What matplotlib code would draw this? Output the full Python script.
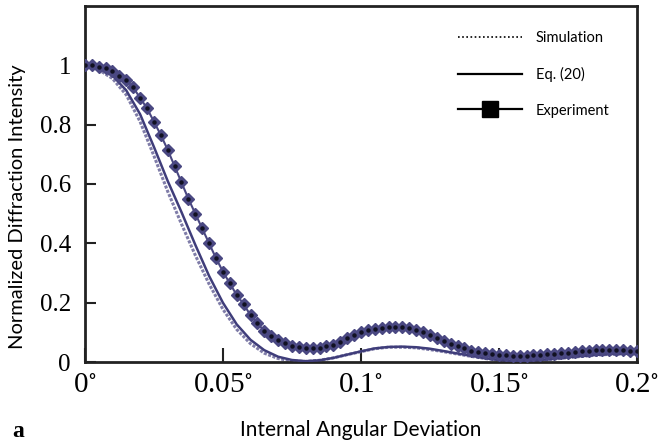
import numpy as np
import matplotlib.pyplot as plt
from matplotlib.lines import Line2D

# experiment markers, one every 0.0025 deg
exp_x = np.arange(81) * 0.0025
exp_y = [1.0, 1.0, 0.995, 0.99, 0.98, 0.965, 0.95, 0.925, 0.89, 0.855,
         0.81, 0.765, 0.715, 0.66, 0.605, 0.55, 0.5, 0.45, 0.4, 0.35,
         0.305, 0.265, 0.226, 0.195, 0.158, 0.13, 0.105, 0.088, 0.073, 0.063,
         0.055, 0.05, 0.047, 0.047, 0.049, 0.053, 0.059, 0.068, 0.08, 0.091,
         0.1, 0.107, 0.112, 0.116, 0.118, 0.119, 0.118, 0.115, 0.109, 0.1,
         0.09, 0.08, 0.07, 0.062, 0.055, 0.047, 0.038, 0.033, 0.029, 0.026,
         0.024, 0.023, 0.022, 0.022, 0.022, 0.023, 0.024, 0.026, 0.028, 0.03,
         0.032, 0.034, 0.036, 0.038, 0.039, 0.04, 0.04, 0.04, 0.039, 0.038,
         0.037]

# theory curves sampled every 0.005 deg
th_x = np.arange(41) * 0.005
eq20_y = [1.0, 0.99, 0.965, 0.915, 0.835, 0.725, 0.61, 0.505, 0.395, 0.29,
          0.2, 0.127, 0.075, 0.04, 0.018, 0.007, 0.003, 0.006, 0.014, 0.025,
          0.036, 0.046, 0.051, 0.052, 0.05, 0.045, 0.037, 0.029, 0.021, 0.013,
          0.007, 0.004, 0.004, 0.007, 0.011, 0.016, 0.02, 0.024, 0.027, 0.028,
          0.028]
sim_y = [1.0, 0.985, 0.955, 0.9, 0.81, 0.695, 0.575, 0.465, 0.36, 0.263,
         0.178, 0.11, 0.062, 0.03, 0.012, 0.004, 0.002, 0.006, 0.014, 0.025,
         0.035, 0.045, 0.05, 0.05, 0.048, 0.042, 0.035, 0.027, 0.019, 0.012,
         0.006, 0.003, 0.003, 0.006, 0.01, 0.015, 0.019, 0.023, 0.026, 0.027,
         0.027]

xticks = [0, 0.05, 0.1, 0.15, 0.2]
xtick_labels = ['0$^{\\circ}$', '0.05$^{\\circ}$', '0.1$^{\\circ}$', '0.15$^{\\circ}$', '0.2$^{\\circ}$']
yticks = [0, 0.2, 0.4, 0.6, 0.8, 1.0]
ytick_labels = ['0', '0.2', '0.4', '0.6', '0.8', '1']

sans = ['Lato', 'DejaVu Sans']
serif = ['Liberation Serif', 'DejaVu Serif']
plt.rcParams['mathtext.fontset'] = 'stix'

fig = plt.figure(figsize=(6.58, 4.47), dpi=100)
ax = fig.add_axes([0.129, 0.19, 0.839, 0.797])

purple = '#4a4882'
ax.plot(th_x, sim_y, color='#7f7ca8', lw=2.2, ls=(0, (1, 0.5)), zorder=2)
ax.plot(th_x, eq20_y, color='#3f3d7a', lw=1.8, zorder=3)
ax.plot(exp_x, exp_y, color=purple, lw=1.5, marker='D', ms=6.5, mec=purple, mfc=purple, zorder=4)
ax.plot(exp_x, exp_y, ls='none', marker='o', ms=2.2, color='#111122', zorder=5)

ax.set_xlim(0, 0.2)
ax.set_ylim(0, 1.2)
ax.set_xticks(xticks)
ax.set_xticklabels(xtick_labels, family=serif, fontsize=21)
ax.set_yticks(yticks)
ax.set_yticklabels(ytick_labels, family=serif, fontsize=18)
ax.tick_params(axis='x', direction='in', length=10, width=1.5, pad=7, color='#222222')
ax.tick_params(axis='y', direction='in', length=8, width=1.5, pad=10, color='#222222')
for s in ax.spines.values():
    s.set_linewidth(2)
    s.set_color('#222222')

ax.set_xlabel('Internal Angular Deviation', family=sans, fontsize=15, labelpad=16)
ax.set_ylabel('Normalized Diffraction Intensity', family=sans, fontsize=14.5)
ax.yaxis.set_label_coords(-0.106, 0.435)
fig.text(0.018, 0.022, 'a', family=serif, fontsize=17, fontweight='bold')

handles = [
    Line2D([], [], color='black', lw=1.2, ls=(0, (1, 1.5))),
    Line2D([], [], color='black', lw=1.6),
    Line2D([], [], color='black', lw=1.6, marker='s', ms=11),
]
ax.legend(handles, ['Simulation', 'Eq. (20)', 'Experiment'], loc='upper left',
          bbox_to_anchor=(0.675, 0.93), frameon=False, borderpad=0, borderaxespad=0,
          handlelength=4.4, handletextpad=0.95, labelspacing=1.5,
          prop={'family': sans, 'size': 10.5})

fig.savefig('out.png', dpi=100)
